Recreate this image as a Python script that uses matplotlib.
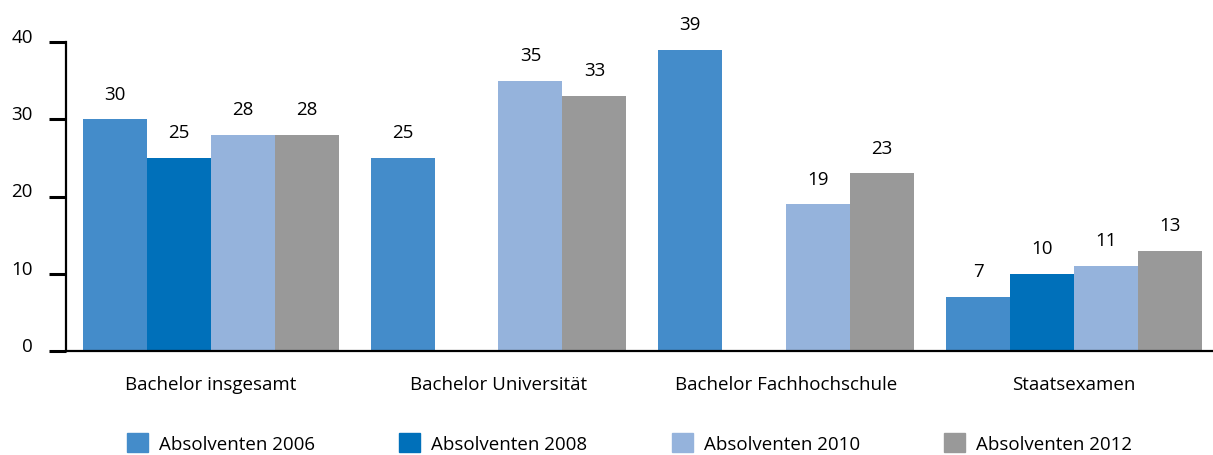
import numpy as np
import matplotlib.pyplot as plt
from matplotlib.patches import Patch

categories = ["Bachelor insgesamt", "Bachelor Universität", "Bachelor Fachhochschule", "Staatsexamen"]
series = ["Absolventen 2006", "Absolventen 2008", "Absolventen 2010", "Absolventen 2012"]
v2006 = [30, 25, 39, 7]
v2008 = [25, np.nan, np.nan, 10]
v2010 = [28, 35, 19, 11]
v2012 = [28, 33, 23, 13]
colors = ["#448cca", "#0070ba", "#95b3dc", "#999999"]

plt.rcParams['font.family'] = ['Open Sans', 'DejaVu Sans']
fs = 13.5

fig = plt.figure(figsize=(12.13, 4.56), dpi=100)
ax = fig.add_axes([66/1213, 1-352/456, 1-66/1213, (352-43)/456])

x = np.arange(len(categories))
w = 64/288
for i, vals in enumerate([v2006, v2008, v2010, v2012]):
    pos = x - 2*w + (i+0.5)*w
    ax.bar(pos, vals, width=w, color=colors[i], label=series[i])
    for p, v in zip(pos, vals):
        if not np.isnan(v):
            ax.annotate(f"{v:g}", (p, v), xytext=(0, 12), textcoords="offset points",
                        ha="center", va="bottom", fontsize=fs, annotation_clip=False)

ax.set_xlim(-0.503, 3.483)
ax.set_ylim(0, 40)
ax.set_yticks([0, 10, 20, 30, 40])
ax.set_xticks(x)
ax.set_xticklabels(categories, fontsize=fs)
ax.tick_params(axis='x', length=0, pad=17)
ax.tick_params(axis='y', length=12, width=2.2, labelsize=fs, pad=12)
for lab in ax.get_yticklabels():
    lab.set_verticalalignment('baseline')
for s in ["top", "right"]:
    ax.spines[s].set_visible(False)
ax.spines["left"].set_linewidth(1.6)
ax.spines["bottom"].set_linewidth(1.6)

handles = [Patch(color=c) for c in colors]
fig.legend(handles, series, loc="center", bbox_to_anchor=(0.519, 1-444/456), ncol=4,
           frameon=False, fontsize=fs, handlelength=1.12, handleheight=1.12,
           handletextpad=0.59, columnspacing=4.5)

fig.savefig("out.png", dpi=100)
